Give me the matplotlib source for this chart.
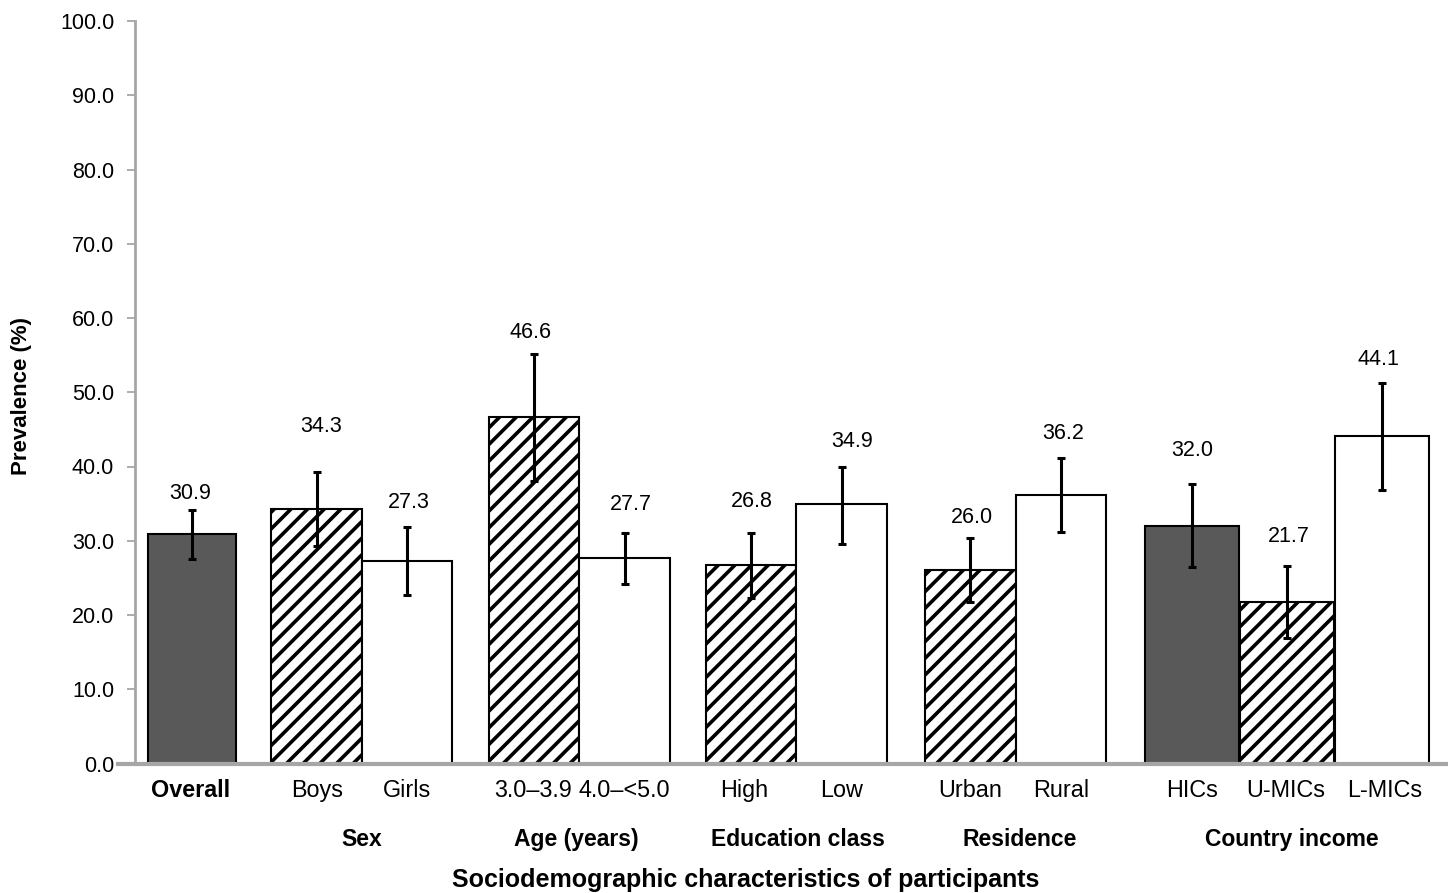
import matplotlib
matplotlib.use("Agg")
import matplotlib.pyplot as plt
from matplotlib.lines import Line2D

plt.rcParams['font.family'] = ['Liberation Sans', 'DejaVu Sans']
plt.rcParams['hatch.linewidth'] = 2.6

# ---- data ----
categories = ["Overall", "Boys", "Girls", "3.0\u20133.9", "4.0\u2013<5.0", "High", "Low",
              "Urban", "Rural", "HICs", "U-MICs", "L-MICs"]
prevalence = [30.9, 34.3, 27.3, 46.6, 27.7, 26.8, 34.9, 26.0, 36.2, 32.0, 21.7, 44.1]
ci_low = [27.6, 29.3, 22.7, 38.0, 24.2, 22.3, 29.6, 21.7, 31.2, 26.4, 16.9, 36.9]
ci_high = [34.2, 39.2, 31.8, 55.1, 31.1, 31.1, 40.0, 30.4, 41.2, 37.6, 26.6, 51.3]
groups = ["Sex", "Age (years)", "Education class", "Residence", "Country income"]
y_ticks = [0, 10, 20, 30, 40, 50, 60, 70, 80, 90, 100]

# ---- layout / style ----
xpos = [0.632, 2.008, 3.006, 4.411, 5.411, 6.806, 7.809, 9.231, 10.234, 11.682, 12.727, 13.776]
widths = [0.97, 1.0, 1.0, 1.0, 1.0, 1.0, 1.0, 1.0, 1.0, 1.04, 1.04, 1.04]
styles = ["dark", "hatch", "white", "hatch", "white", "hatch", "white",
          "hatch", "white", "dark", "hatch", "white"]
label_y = [36.4, 45.4, 35.2, 58.0, 34.9, 35.3, 43.3, 33.1, 44.5, 42.2, 30.6, 54.4]
label_dx = [-0.02, 0.05, 0.02, -0.04, 0.07, 0.01, 0.11, 0.02, 0.02, 0.0, 0.02, -0.04]
tick_dx = [-0.02, 0.0, 0.0, -0.01, 0.0, -0.07, 0.0, 0.0, 0.0, 0.0, -0.01, 0.03]
group_x = [2.51, 4.88, 7.33, 9.77, 12.78]
XMAX = 14.508

fig = plt.figure(figsize=(14.48, 8.93), dpi=100)
ax = fig.add_axes([135/1448, 1 - 763.5/893, 1313/1448, (763.5 - 21)/893])

for x, w, v, s in zip(xpos, widths, prevalence, styles):
    if s == "dark":
        ax.bar(x, v, width=w, color="#595959", edgecolor="black", linewidth=1.5, zorder=2)
    elif s == "hatch":
        ax.bar(x, v, width=w, color="white", edgecolor="black", linewidth=1.5,
               hatch="//", zorder=2)
    else:
        ax.bar(x, v, width=w, color="white", edgecolor="black", linewidth=1.5, zorder=2)

yerr = [[v - lo for v, lo in zip(prevalence, ci_low)],
        [hi - v for v, hi in zip(prevalence, ci_high)]]
ax.errorbar(xpos, prevalence, yerr=yerr, fmt="none", ecolor="black",
            elinewidth=2.2, capsize=3.2, capthick=2.2, zorder=3)

for x, dx, ly, v in zip(xpos, label_dx, label_y, prevalence):
    ax.text(x + dx, ly, f"{v:.1f}", ha="center", va="center", fontsize=15.5, color="black")

ax.set_xlim(0, XMAX)
ax.set_ylim(0, 100)
ax.set_yticks(y_ticks)
ax.set_yticklabels([f"{t:.1f}" for t in y_ticks], fontsize=15.5, color="black")
ax.tick_params(axis="y", length=5.5, width=1.3, color="#a6a6a6", pad=9.5)

ax.set_xticks([])
for i, (x, dx, c) in enumerate(zip(xpos, tick_dx, categories)):
    ax.text(x + dx, -3.7, c, ha="center", va="center", fontsize=16.8,
            fontweight="bold" if i == 0 else "normal", clip_on=False)

for sp in ["top", "right", "bottom"]:
    ax.spines[sp].set_visible(False)
ax.spines["left"].set_color("#a6a6a6")
ax.spines["left"].set_linewidth(2)

# horizontal axis line extending slightly left of the y-axis
ax.add_line(Line2D([-17/1313, 1.0], [0, 0], transform=ax.transAxes, color="#a6a6a6",
                   linewidth=3, clip_on=False, zorder=4))

for gx, g in zip(group_x, groups):
    ax.text(gx, -10.2, g, ha="center", va="center", fontsize=16.5, fontweight="bold",
            clip_on=False)

fig.text(746/1448, 1 - 880/893, "Sociodemographic characteristics of participants",
         ha="center", va="center", fontsize=18, fontweight="bold")
fig.text(22/1448, 1 - 396/893, "Prevalence (%)", ha="center", va="center",
         rotation=90, fontsize=16, fontweight="bold")

fig.savefig("out.png", dpi=100)
